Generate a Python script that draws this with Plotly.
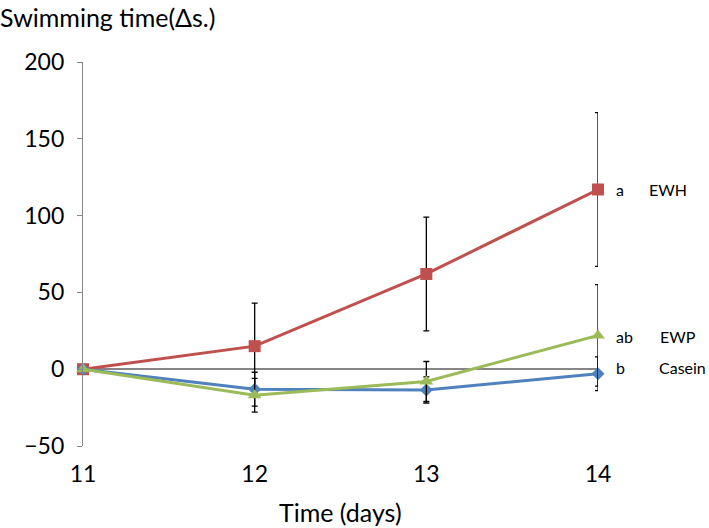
import plotly.graph_objects as go

days = [11, 12, 13, 14]
ewh = [0, 15, 62, 117]
ewh_err = [0, 28, 37, 50]
casein = [0, -13, -13.5, -3]
casein_err = [0, 11, 8.5, 11]
ewp = [0, -17, -8, 22]
ewp_err = [0, 11, 13, 33]

y_ticks = [-50, 0, 50, 100, 150, 200]

FONT = "Lato"

fig = go.Figure()

series = [
    ("EWH", ewh, ewh_err, "#C0504D", "square", 12),
    ("Casein", casein, casein_err, "#4F81BD", "diamond", 10),
    ("EWP", ewp, ewp_err, "#9BBB59", "triangle-up", 12),
]

for name, vals, errs, col, sym, sz in series:
    fig.add_trace(go.Scatter(
        x=days, y=vals, name=name, mode="lines+markers",
        line=dict(color=col, width=3),
        marker=dict(symbol=sym, size=sz, color=col),
        error_y=dict(type="data", array=errs, visible=True,
                     color="black", thickness=1.3, width=3),
        cliponaxis=False,
    ))

# group letters and names at the right end
labels = [("a", "EWH", 117, 647), ("ab", "EWP", 21, 658), ("b", "Casein", 1, 657)]
for letter, name, yv, xpix in labels:
    fig.add_annotation(x=14, y=yv, xref="x", yref="y", text=letter,
                       showarrow=False, xanchor="left", xshift=16,
                       font=dict(family=FONT, size=16, color="black"))
    fig.add_annotation(x=14, y=yv, xref="x", yref="y", text=name,
                       showarrow=False, xanchor="left", xshift=xpix - 598,
                       font=dict(family=FONT, size=16, color="black"))

fig.add_annotation(x=0, y=1, xref="paper", yref="paper", text="Swimming time(Δs.)",
                   showarrow=False, xanchor="left", yanchor="middle",
                   xshift=-85, yshift=45,
                   font=dict(family=FONT, size=25, color="black"))
fig.add_annotation(x=0.5, y=0, xref="paper", yref="paper", text="Time (days)",
                   showarrow=False, xanchor="center", yanchor="middle",
                   yshift=-66,
                   font=dict(family=FONT, size=25, color="black"))

fig.update_xaxes(range=[11, 14], tickvals=days, ticktext=[str(d) for d in days],
                 showline=False, showgrid=False, zeroline=False, ticks="",
                 ticklabelstandoff=12,
                 tickfont=dict(family=FONT, size=23, color="black"))
fig.update_yaxes(range=[-50, 200], tickvals=y_ticks, showgrid=False,
                 showline=True, linecolor="#868686", linewidth=1.3,
                 ticks="outside", ticklen=5, tickcolor="#868686", tickwidth=1.3,
                 zeroline=True, zerolinecolor="#868686", zerolinewidth=1.5,
                 ticklabelstandoff=8,
                 tickfont=dict(family=FONT, size=23, color="black"))

fig.update_layout(
    width=709, height=528,
    margin=dict(l=83, r=111, t=62, b=82),
    plot_bgcolor="white", paper_bgcolor="white",
    showlegend=False,
    font=dict(family=FONT),
)

fig.write_html("out.html", config={"displayModeBar": False},
               post_script="document.body.style.margin='0';")
